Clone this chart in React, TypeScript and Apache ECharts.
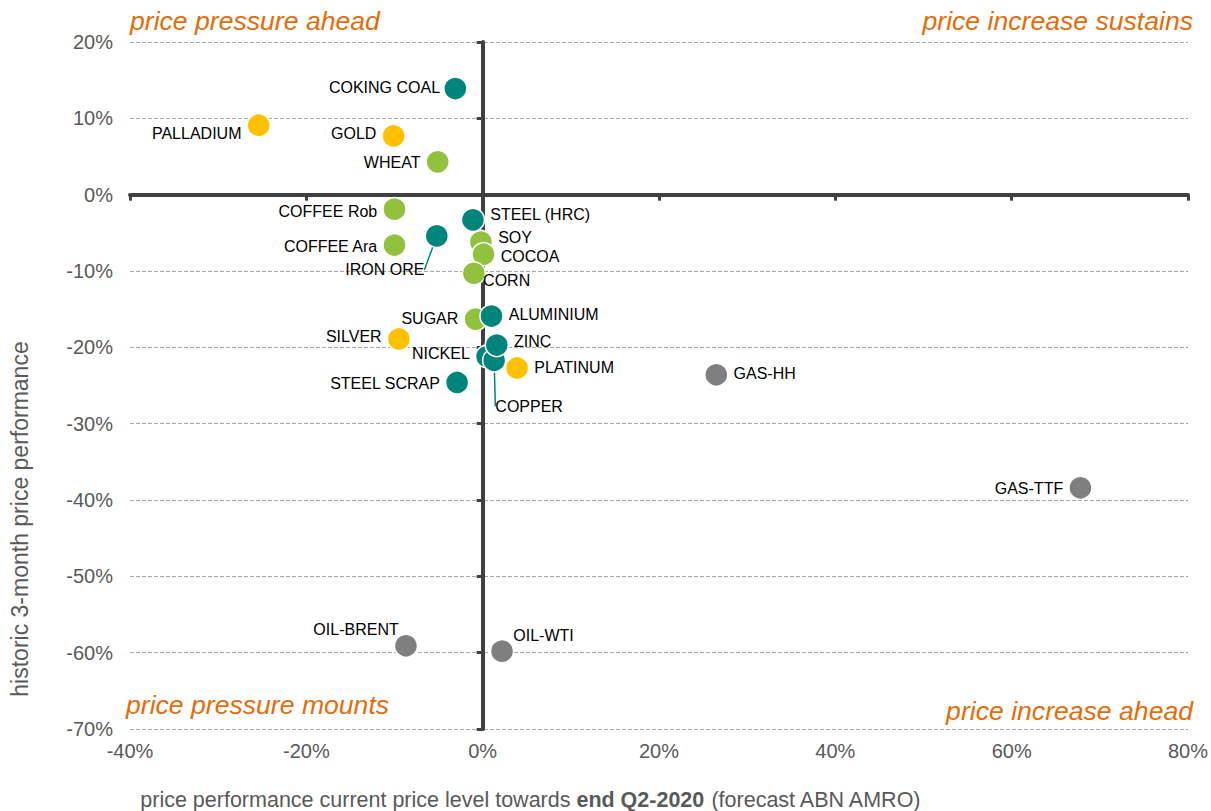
import React, { useEffect, useRef } from "react";
import * as echarts from "echarts";

// Commodity names, x = price performance towards end Q2-2020 (%), y = historic 3-month performance (%)
const names = [
  "PALLADIUM", "GOLD", "SILVER", "PLATINUM",
  "WHEAT", "COFFEE Rob", "COFFEE Ara", "SOY", "COCOA", "CORN", "SUGAR",
  "COKING COAL", "STEEL (HRC)", "IRON ORE", "ALUMINIUM", "NICKEL", "COPPER", "ZINC", "STEEL SCRAP",
  "GAS-HH", "GAS-TTF", "OIL-BRENT", "OIL-WTI",
];
const xValues = [
  -25.4, -10.1, -9.5, 3.9,
  -5.1, -10.0, -10.0, -0.2, 0.1, -1.0, -0.8,
  -3.1, -1.1, -5.2, 1.0, 0.5, 1.3, 1.6, -2.9,
  26.5, 67.8, -8.7, 2.2,
];
const yValues = [
  9.1, 7.7, -18.9, -22.7,
  4.3, -1.9, -6.6, -6.2, -7.8, -10.3, -16.3,
  13.9, -3.3, -5.4, -15.9, -21.2, -21.7, -19.7, -24.6,
  -23.6, -38.4, -59.1, -59.8,
];
const groups = [
  "precious", "precious", "precious", "precious",
  "agri", "agri", "agri", "agri", "agri", "agri", "agri",
  "metal", "metal", "metal", "metal", "metal", "metal", "metal", "metal",
  "energy", "energy", "energy", "energy",
];
const xTicks = [-40, -20, 0, 20, 40, 60, 80];
const yTicks = [-70, -60, -50, -40, -30, -20, -10, 0, 10, 20];
const quadrantLabels = [
  "price pressure ahead",
  "price increase sustains",
  "price pressure mounts",
  "price increase ahead",
];

const groupColors: Record<string, string> = {
  precious: "#FFC000",
  agri: "#92C13E",
  metal: "#00857D",
  energy: "#7F7F7F",
};

// label placement (style only): pos = side of the marker, dx/dy = shift in px
const labelStyle: Record<string, { pos: string; dx: number; dy: number; line?: boolean }> = {
  PALLADIUM: { pos: "left", dx: 0, dy: 8 },
  GOLD: { pos: "left", dx: 0, dy: -2 },
  SILVER: { pos: "left", dx: 0, dy: -2 },
  PLATINUM: { pos: "right", dx: 0, dy: 0 },
  WHEAT: { pos: "left", dx: 0, dy: 1 },
  "COFFEE Rob": { pos: "left", dx: 0, dy: 2 },
  "COFFEE Ara": { pos: "left", dx: 0, dy: 1 },
  SOY: { pos: "right", dx: 0, dy: -4 },
  COCOA: { pos: "right", dx: 0, dy: 2 },
  CORN: { pos: "right", dx: -8, dy: 7 },
  SUGAR: { pos: "left", dx: 0, dy: -1 },
  "COKING COAL": { pos: "left", dx: 2, dy: -1 },
  "STEEL (HRC)": { pos: "right", dx: 0, dy: -5 },
  "IRON ORE": { pos: "inside", dx: -52, dy: 34, line: true },
  ALUMINIUM: { pos: "right", dx: 0, dy: -2 },
  NICKEL: { pos: "left", dx: 0, dy: -3 },
  COPPER: { pos: "inside", dx: 35, dy: 46, line: true },
  ZINC: { pos: "right", dx: 0, dy: -4 },
  "STEEL SCRAP": { pos: "left", dx: 0, dy: 1 },
  "GAS-HH": { pos: "right", dx: 0, dy: -1 },
  "GAS-TTF": { pos: "left", dx: 0, dy: 1 },
  "OIL-BRENT": { pos: "left", dx: 10, dy: -16 },
  "OIL-WTI": { pos: "right", dx: -6, dy: -16 },
};

const FONT = "'Liberation Sans', Arial, sans-serif";

export default function App() {
  const ref = useRef<HTMLDivElement>(null);
  useEffect(() => {
    if (!ref.current) return;
    const chart = echarts.init(ref.current, undefined, { renderer: "svg" });
    const data = names.map((n, i) => {
      const ls = labelStyle[n];
      const color = groupColors[groups[i]];
      return {
        name: n,
        value: [xValues[i], yValues[i]],
        itemStyle: { color },
        label: { show: true, position: ls.pos, distance: 5 },
        labelLine: ls.line
          ? { show: true, lineStyle: { color, width: 1.5 } }
          : { show: false },
      };
    });
    const option: any = {
      animation: false,
      textStyle: { fontFamily: FONT },
      grid: { left: 130, right: 22, top: 42, bottom: 82 },
      xAxis: [
        {
          type: "value",
          min: xTicks[0],
          max: xTicks[xTicks.length - 1],
          interval: 20,
          position: "bottom",
          axisLine: { show: false, onZero: false },
          axisTick: { show: false },
          splitLine: { show: false },
          axisLabel: {
            formatter: (v: number) => `${v}%`,
            color: "#595959",
            fontSize: 20,
            margin: 12,
            fontFamily: FONT,
          },
        },
        {
          type: "value",
          min: xTicks[0],
          max: xTicks[xTicks.length - 1],
          interval: 20,
          position: "top",
          axisLine: { show: true, onZero: true, lineStyle: { color: "#404040", width: 4 } },
          axisTick: { show: true, inside: true, length: 6, lineStyle: { color: "#404040", width: 3 } },
          axisLabel: { show: false },
          splitLine: { show: false },
        },
      ],
      yAxis: [
        {
          type: "value",
          min: yTicks[0],
          max: yTicks[yTicks.length - 1],
          interval: 10,
          position: "left",
          axisLine: { show: false, onZero: false },
          axisTick: { show: false },
          splitLine: { show: true, lineStyle: { color: "#A6A6A6", type: [4, 2], width: 1 } },
          axisLabel: {
            formatter: (v: number) => `${v}%`,
            color: "#595959",
            fontSize: 20,
            margin: 17,
            fontFamily: FONT,
          },
        },
        {
          type: "value",
          min: yTicks[0],
          max: yTicks[yTicks.length - 1],
          interval: 10,
          position: "right",
          axisLine: { show: true, onZero: true, lineStyle: { color: "#404040", width: 4 } },
          axisTick: { show: true, inside: true, length: 6, lineStyle: { color: "#404040", width: 3 } },
          axisLabel: { show: false },
          splitLine: { show: false },
        },
      ],
      series: [
        {
          type: "scatter",
          xAxisIndex: 0,
          yAxisIndex: 0,
          symbolSize: 23,
          z: 5,
          itemStyle: { borderColor: "#ffffff", borderWidth: 1.5, opacity: 1 },
          label: { color: "#000000", fontSize: 16, fontFamily: FONT, formatter: "{b}" },
          labelLayout: (params: any) => {
            const ls = labelStyle[names[params.dataIndex]];
            return { dx: ls.dx, dy: ls.dy };
          },
          data,
        },
      ],
      graphic: [
        {
          type: "text",
          left: 130,
          top: 7,
          style: { text: quadrantLabels[0], fill: "#E46C0A", font: `italic 26.6px ${FONT}` },
        },
        {
          type: "text",
          right: 18,
          top: 7,
          style: { text: quadrantLabels[1], fill: "#E46C0A", font: `italic 26.6px ${FONT}` },
        },
        {
          type: "text",
          left: 126,
          top: 691,
          style: { text: quadrantLabels[2], fill: "#E46C0A", font: `italic 26.6px ${FONT}` },
        },
        {
          type: "text",
          right: 18,
          top: 697,
          style: { text: quadrantLabels[3], fill: "#E46C0A", font: `italic 26.6px ${FONT}` },
        },
        {
          type: "text",
          x: 20,
          y: 519,
          rotation: Math.PI / 2,
          style: {
            text: "historic 3-month price performance",
            fill: "#595959",
            font: `23px ${FONT}`,
            align: "center",
            verticalAlign: "middle",
          },
        },
        {
          type: "text",
          x: 531,
          y: 800,
          style: {
            text: "price performance current price level towards {b|end Q2-2020} (forecast ABN AMRO)",
            fill: "#595959",
            font: `21.5px ${FONT}`,
            align: "center",
            verticalAlign: "middle",
            rich: { b: { fontWeight: "bold", fontSize: 21.5, fill: "#595959", fontFamily: FONT } },
          },
        },
      ],
    };
    chart.setOption(option);
    return () => chart.dispose();
  }, []);
  return (
    <div
      ref={ref}
      style={{ position: "fixed", left: 0, top: 0, width: 1211, height: 811, background: "#fff" }}
    />
  );
}
